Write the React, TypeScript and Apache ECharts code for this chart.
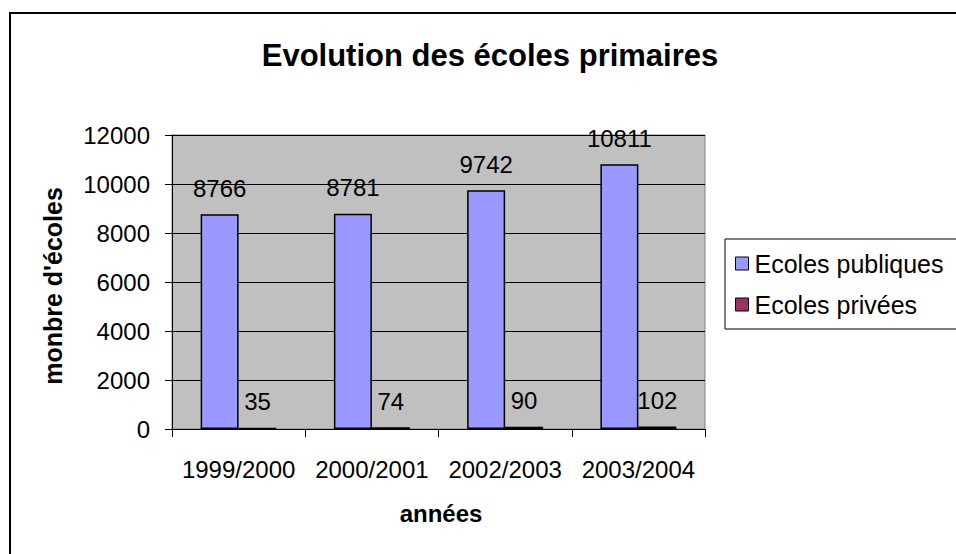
import React, { useEffect, useRef } from "react";
import * as echarts from "echarts";

const categories = ["1999/2000", "2000/2001", "2002/2003", "2003/2004"];
const publiques = [8766, 8781, 9742, 10811];
const privees = [35, 74, 90, 102];
const seriesNames = ["Ecoles publiques", "Ecoles privées"];
const titleText = "Evolution des écoles primaires";
const yAxisTitle = "monbre d'écoles";
const xAxisTitle = "années";

const FONT = "'Liberation Sans', Arial, sans-serif";

export default function App() {
  const ref = useRef<HTMLDivElement>(null);
  useEffect(() => {
    if (!ref.current) return;
    const chart = echarts.init(ref.current, undefined, { renderer: "svg" });
    const labelCfg = {
      show: true,
      position: "top",
      distance: 14,
      color: "#000",
      fontSize: 24,
      fontFamily: FONT,
    };
    chart.setOption({
      animation: false,
      backgroundColor: "#ffffff",
      textStyle: { fontFamily: FONT, color: "#000" },
      grid: {
        left: 172,
        top: 135,
        width: 533,
        height: 294,
        show: true,
        backgroundColor: "#C0C0C0",
        borderColor: "#808080",
        borderWidth: 1,
        containLabel: false,
      },
      legend: {
        orient: "vertical",
        left: 725,
        top: 239,
        padding: [12, 30, 12, 10],
        itemGap: 16,
        itemWidth: 13,
        itemHeight: 13,
        itemStyle: { borderColor: "#000", borderWidth: 1 },
        icon: "rect",
        borderColor: "#000",
        borderWidth: 1,
        textStyle: { fontSize: 25, color: "#000", fontFamily: FONT, padding: [0, 0, 0, 1] },
        data: seriesNames,
      },
      xAxis: {
        type: "category",
        data: categories,
        axisLine: { show: true, lineStyle: { color: "#000", width: 1 } },
        axisTick: {
          show: true,
          alignWithLabel: false,
          interval: 0,
          length: 8,
          lineStyle: { color: "#000" },
        },
        axisLabel: { interval: 0, fontSize: 24, color: "#000", margin: 28, fontFamily: FONT },
        splitLine: { show: false },
      },
      yAxis: {
        type: "value",
        min: 0,
        max: 12000,
        interval: 2000,
        axisLine: { show: true, lineStyle: { color: "#000", width: 1 } },
        axisTick: { show: true, length: 7, lineStyle: { color: "#000" } },
        axisLabel: {
          fontSize: 24,
          color: "#000",
          margin: 22,
          fontFamily: FONT,
          formatter: (v: number) => String(v),
        },
        splitLine: { show: true, lineStyle: { color: "#000", width: 1 } },
      },
      series: [
        {
          name: seriesNames[0],
          type: "bar",
          data: publiques,
          barGap: "0%",
          barCategoryGap: "43%",
          itemStyle: { color: "#9999FF", borderColor: "#000", borderWidth: 1.5 },
          label: labelCfg,
        },
        {
          name: seriesNames[1],
          type: "bar",
          data: privees,
          barGap: "0%",
          barCategoryGap: "43%",
          itemStyle: { color: "#993366", borderColor: "#000", borderWidth: 1.5 },
          label: labelCfg,
        },
      ],
      graphic: [
        {
          type: "rect",
          shape: { x: 10, y: 13, width: 1000, height: 600 },
          style: { fill: "none", stroke: "#000", lineWidth: 2 },
          silent: true,
          z: 100,
        },
        {
          type: "text",
          x: 490,
          y: 55,
          style: {
            text: titleText,
            fontSize: 31,
            fontWeight: "bold",
            fontFamily: FONT,
            fill: "#000",
            textAlign: "center",
            textVerticalAlign: "middle",
          },
        },
        {
          type: "text",
          x: 53,
          y: 286,
          rotation: Math.PI / 2,
          style: {
            text: yAxisTitle,
            fontSize: 25,
            fontWeight: "bold",
            fontFamily: FONT,
            fill: "#000",
            textAlign: "center",
            textVerticalAlign: "middle",
          },
        },
        {
          type: "text",
          x: 441,
          y: 513,
          style: {
            text: xAxisTitle,
            fontSize: 24,
            fontWeight: "bold",
            fontFamily: FONT,
            fill: "#000",
            textAlign: "center",
            textVerticalAlign: "middle",
          },
        },
      ],
    });
    return () => chart.dispose();
  }, []);
  return (
    <div
      ref={ref}
      style={{ position: "absolute", left: 0, top: 0, width: 956, height: 554 }}
    />
  );
}
